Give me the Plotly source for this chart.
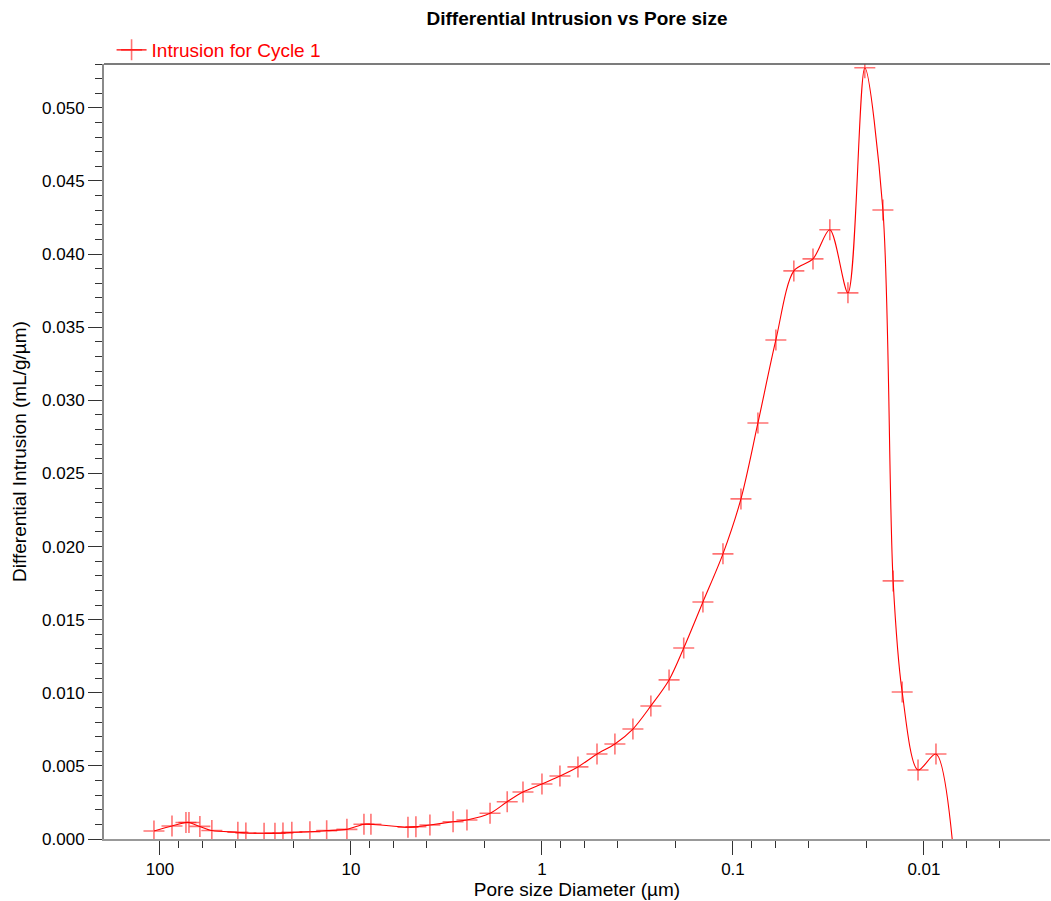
import plotly.graph_objects as go

# Pore size diameter (µm) and differential intrusion (mL/g/µm)
pore_diameter = [
    107.5, 86.5, 73.1, 70.5, 61.8, 53.5, 39.1, 35.5, 28.5, 25.0,
    22.7, 20.4, 16.4, 13.4, 10.5, 8.55, 7.86, 5.03, 4.57, 3.86,
    2.92, 2.47, 1.87, 1.52, 1.257, 1.0, 0.805, 0.648, 0.515, 0.415,
    0.334, 0.269, 0.216, 0.181, 0.1436, 0.1128, 0.0908, 0.0740, 0.0596, 0.0480,
    0.0381, 0.0311, 0.0250, 0.0204, 0.0164, 0.0145, 0.0130, 0.01074, 0.00865, 0.00697,
]
diff_intrusion = [
    0.00055, 0.00089, 0.00113, 0.00113, 0.00086, 0.00058, 0.00046, 0.00041, 0.00039, 0.00039,
    0.00041, 0.00046, 0.00050, 0.00057, 0.00066, 0.00101, 0.00101, 0.00080, 0.00084, 0.00096,
    0.00118, 0.00130, 0.00176, 0.00255, 0.00321, 0.00376, 0.00431, 0.00493, 0.00581, 0.00650,
    0.00752, 0.00910, 0.01088, 0.01306, 0.01621, 0.01950, 0.02326, 0.02845, 0.03413, 0.03885,
    0.03967, 0.04166, 0.03735, 0.05274, 0.04302, 0.01765, 0.01005, 0.00472, 0.00581, -0.0012,
]

x_major_ticks = [100, 10, 1, 0.1, 0.01]
x_major_text = ["100", "10", "1", "0.1", "0.01"]
x_minor_ticks = [200, 80, 60, 40, 20, 8, 6, 4, 2, 0.8, 0.6, 0.4, 0.2,
                 0.08, 0.06, 0.04, 0.02, 0.008, 0.006, 0.004, 0.002]

series_name = "Intrusion for Cycle 1"
chart_title = "Differential Intrusion vs Pore size"
x_title = "Pore size Diameter (µm)"
y_title = "Differential Intrusion (mL/g/µm)"

FONT = "Liberation Sans, Arial, sans-serif"

fig = go.Figure()
fig.add_trace(go.Scatter(
    x=pore_diameter, y=diff_intrusion,
    mode="lines+markers",
    name=series_name,
    line=dict(color="#ff0000", width=1.1, shape="spline", smoothing=0.85),
    marker=dict(symbol="cross-thin", size=15, color="#ff0000",
                line=dict(color="rgba(255,0,0,0.55)", width=1.6)),
    cliponaxis=True,
))

fig.update_layout(
    width=1051, height=901,
    margin=dict(l=104, r=1, t=64, b=62),
    paper_bgcolor="white", plot_bgcolor="white",
    font=dict(family=FONT, color="#000000"),
    title=dict(text="<b>" + chart_title + "</b>", x=0.5, xref="paper", xanchor="center",
               y=1 - 18 / 901, yref="container", yanchor="middle",
               font=dict(family=FONT, size=19, color="#000000")),
    showlegend=True,
    legend=dict(x=0.008, xanchor="left", y=1 + 14 / 775, yanchor="middle",
                bgcolor="rgba(0,0,0,0)", borderwidth=0,
                font=dict(family=FONT, size=19, color="#ff0000")),
    xaxis=dict(
        type="log",
        range=[2.293, -2.660],
        tickmode="array", tickvals=x_major_ticks, ticktext=x_major_text,
        ticks="outside", ticklen=14, tickwidth=1, tickcolor="#333333",
        minor=dict(tickmode="array", tickvals=x_minor_ticks, ticks="outside",
                   ticklen=7, tickwidth=1, tickcolor="#333333", showgrid=False),
        showline=True, linecolor="#999999", linewidth=2,
        showgrid=False, zeroline=False,
        tickfont=dict(family=FONT, size=17, color="#000000"),
        title=dict(text=x_title, font=dict(family=FONT, size=19, color="#000000"), standoff=1),
    ),
    yaxis=dict(
        range=[0, 0.053],
        tickmode="linear", tick0=0, dtick=0.005, tickformat=".3f",
        ticks="outside", ticklen=14, tickwidth=1, tickcolor="#333333",
        minor=dict(tickmode="linear", tick0=0, dtick=0.001, ticks="outside",
                   ticklen=7, tickwidth=1, tickcolor="#333333", showgrid=False),
        showline=True, linecolor="#8a8a8a", linewidth=2,
        showgrid=False, zeroline=False,
        tickfont=dict(family=FONT, size=17, color="#000000"),
        title=dict(text=y_title, font=dict(family=FONT, size=19, color="#000000"), standoff=10),
    ),
    shapes=[dict(type="line", xref="paper", yref="paper", x0=0, x1=1, y0=1, y1=1,
                 line=dict(color="#505050", width=1.5))],
)

fig.write_html("out.html")
